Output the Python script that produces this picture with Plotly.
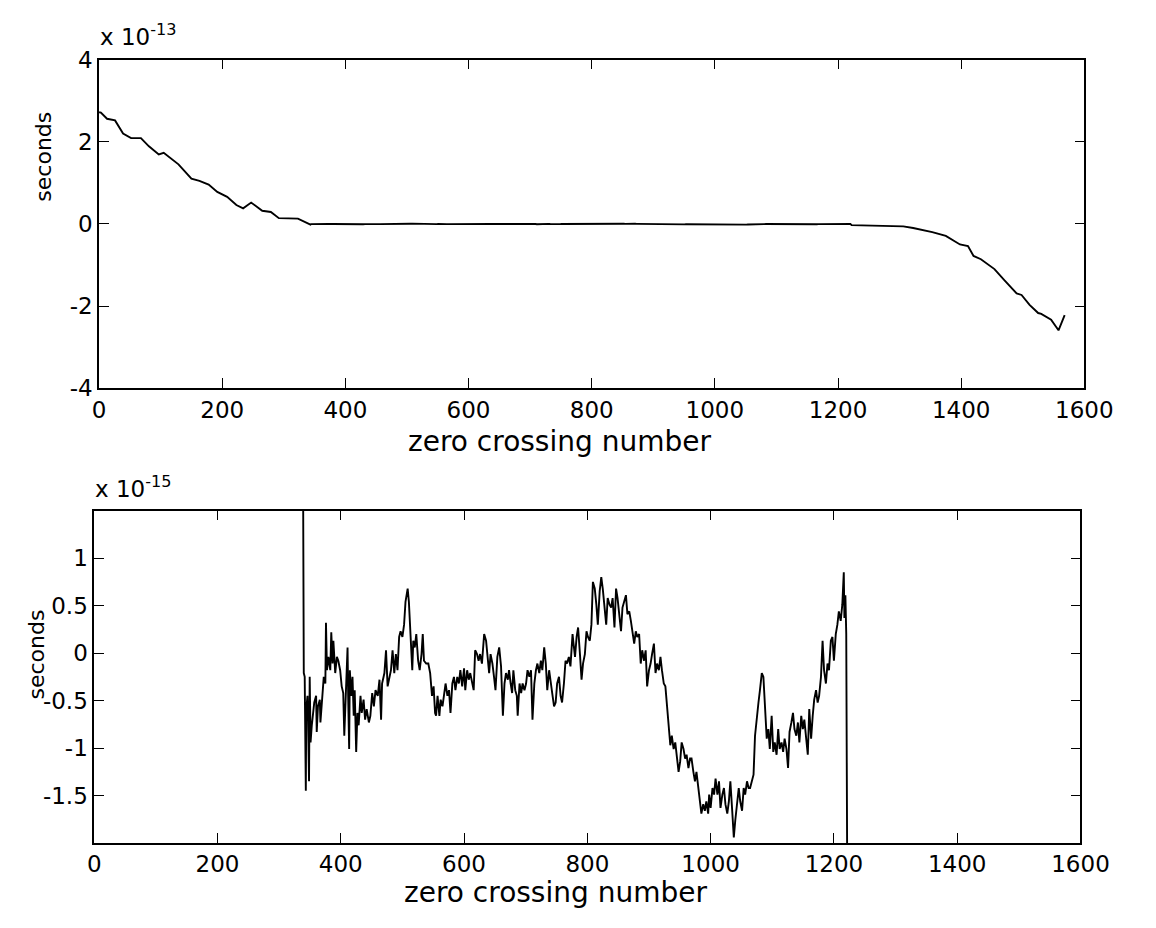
import numpy as np
import plotly.graph_objects as go

W, H = 1156, 928

# Timing error vs zero crossing number.
# Outer portions (scale 1e-13 s)
head_x = [0, 3, 13, 26, 39, 52, 68, 81, 97, 105, 129, 150, 163, 178, 192, 208, 223,
          234, 247, 265, 279, 292, 323, 338.5]
head_y = [2.72, 2.71, 2.56, 2.52, 2.20, 2.09, 2.09, 1.89, 1.69, 1.73, 1.45, 1.10, 1.05,
          0.96, 0.78, 0.66, 0.46, 0.38, 0.52, 0.32, 0.29, 0.14, 0.13, 0.025]

tail_x = [1222, 1275, 1306, 1322, 1353, 1375, 1385, 1398, 1411, 1420, 1432, 1454, 1470,
          1490, 1498, 1511, 1525, 1530, 1546, 1558, 1568]
tail_y = [-0.03, -0.04, -0.06, -0.10, -0.20, -0.29, -0.38, -0.50, -0.54, -0.78, -0.86,
          -1.10, -1.37, -1.69, -1.73, -1.97, -2.17, -2.19, -2.33, -2.59, -2.22]

# Central portion (scale 1e-15 s)
mid_x = [339.3, 340.0, 341.5, 343.3, 344.0, 346.0, 347.0, 348.5, 349.6, 351.0, 353.0, 354.7,
         357.0, 360.0, 361.0, 363.0, 366.0, 367.0, 370.0, 372.4, 375.0, 376.0, 377.6, 380.0,
         383.0, 384.6, 386.7, 388.0, 391.0, 393.7, 396.0, 399.0, 401.5, 404.0, 405.7, 408.0,
         411.0, 412.0, 413.6, 414.7, 417.0, 419.0, 421.0, 422.6, 425.0, 427.0, 429.0, 432.0,
         434.0, 437.0, 439.5, 442.0, 445.6, 448.0, 451.0, 453.7, 456.4, 460.0, 462.8, 465.4,
         467.0, 470.8, 473.4, 476.0, 478.7, 481.4, 484.0, 486.8, 489.4, 492.0, 494.7, 497.0,
         500.0, 502.7, 505.0, 508.5, 510.5, 513.0, 516.0, 517.6, 520.0, 522.5, 525.5, 528.0,
         531.0, 533.0, 535.0, 538.6, 542.0, 545.0, 548.0, 550.6, 553.0,
         554.6, 557.0, 560.0, 562.0, 565.0, 567.7, 570.0, 573.0, 575.6, 578.0, 581.0, 583.6,
         586.0, 589.0, 591.6, 594.0, 597.0, 600.0, 602.0, 605.0, 607.6, 610.0, 613.0, 615.6,
         618.0, 621.0, 623.6, 626.0, 629.0, 632.6, 635.7, 638.0, 640.7, 643.0, 646.0, 648.6,
         651.0, 654.0, 657.0, 660.0, 663.0, 665.6, 668.0, 671.0, 673.0, 675.6, 678.0, 680.0,
         683.0, 685.6, 687.0, 690.0, 692.6, 695.0, 698.0, 700.6, 703.0, 706.0, 708.6, 711.0,
         714.0, 716.6, 719.0, 722.0, 724.6, 727.0, 730.0, 732.6, 735.0, 738.0, 740.6, 743.0,
         746.0, 748.6, 751.0, 754.0, 756.6, 759.0, 762.0, 764.6, 767.0, 770.0, 772.6, 776.0,
         777.6, 780.0, 782.6, 785.0, 788.0, 790.6, 793.0, 796.0, 798.6, 801.0, 804.0, 806.6,
         809.0, 812.0, 814.6, 817.0, 820.0, 822.6, 825.0, 828.0, 830.6, 833.0, 836.0, 838.6,
         841.0, 844.0, 846.6, 849.0, 852.0, 854.6, 857.0, 860.0, 862.6, 865.0, 868.0, 870.6,
         873.0, 876.0, 878.6, 881.0, 884.0, 886.6, 889.0, 892.0, 894.6, 897.0, 900.0, 902.6,
         905.0, 908.0, 910.6, 913.0, 916.0, 918.6, 921.0, 924.0, 926.6, 929.0, 932.0, 934.6,
         937.0, 940.0, 942.6, 945.0, 948.0, 950.6, 953.0, 956.0, 958.6, 961.0, 964.0, 966.6,
         969.0, 972.0, 974.6, 977.0, 980.0, 982.6, 985.0, 988.0, 990.6, 993.0, 996.0,
         997.6, 1000.0, 1003.0, 1005.6, 1008.0, 1011.0, 1013.6, 1016.0, 1019.0, 1021.6,
         1024.0, 1027.0, 1029.6, 1032.0, 1035.0, 1037.6, 1040.0, 1043.0, 1045.6, 1048.0,
         1051.0, 1053.6, 1056.0, 1059.0, 1061.6, 1064.0, 1067.0, 1069.6, 1072.0, 1075.0,
         1077.6, 1080.0, 1083.0, 1085.6, 1088.0, 1091.0, 1093.6, 1096.0, 1099.0, 1101.6,
         1104.0, 1107.0, 1109.6, 1112.0, 1115.0, 1117.6, 1120.0, 1123.0, 1125.6, 1128.0,
         1131.0, 1133.6, 1136.0, 1139.0, 1141.6, 1144.0, 1147.0, 1149.6, 1152.0, 1155.0,
         1157.6, 1160.0, 1163.0, 1165.6, 1168.0, 1171.0, 1173.6, 1176.0, 1179.0, 1181.6,
         1184.0, 1187.0, 1189.6, 1192.0, 1195.0, 1197.6, 1200.0, 1203.0, 1205.6, 1208.0,
         1211.0, 1213.6, 1216.0, 1217.0, 1218.6, 1220.0]
mid_y = [0.54, -0.21, -0.25, -1.45, -0.59, -0.45, -0.70, -1.35, -0.25, -0.94, -0.76, -0.63,
         -0.52, -0.45, -0.83, -0.56, -0.49, -0.73, -0.45, -0.25, -0.32, 0.32, -0.18, -0.04,
         -0.18, 0.22, -0.11, 0.13, -0.21, -0.04, -0.08, -0.18, -0.35, -0.42, -0.87, -0.39,
         0.06, -0.45, -1.01, -0.18, -0.45, -0.25, -0.66, -0.39, -1.04, -0.63, -0.76, -0.45,
         -0.63, -0.49, -0.70, -0.59, -0.73, -0.66, -0.42, -0.56, -0.39, -0.45, -0.28, -0.70,
         -0.32, -0.21, 0.03, -0.35, -0.25, -0.18, 0.03, -0.21, -0.01, -0.18, 0.17, 0.23,
         0.17, 0.30, 0.54, 0.68, 0.54, 0.17, -0.18, 0.13, 0.06, 0.20, -0.08, -0.18,
         -0.01, 0.20, -0.08, -0.11, -0.11, -0.21, -0.45, -0.35, -0.63,
         -0.66, -0.45, -0.66, -0.49, -0.56, -0.39, -0.32, -0.45, -0.39, -0.63, -0.32, -0.25,
         -0.39, -0.25, -0.32, -0.18, -0.35, -0.16, -0.39, -0.18, -0.28, -0.21, -0.32, -0.39,
         0.03, -0.01, -0.08, -0.01, -0.11, 0.20, 0.13, -0.04, -0.21, -0.01, -0.11, -0.25,
         -0.39, -0.04, 0.06, -0.14, -0.66, -0.32, -0.21, -0.28, -0.18, -0.32, -0.42, -0.18,
         -0.39, -0.45, -0.66, -0.32, -0.42, -0.32, -0.39, -0.32, -0.18, -0.25, -0.18, -0.70,
         -0.32, -0.18, -0.11, -0.21, -0.08, -0.18, 0.06, -0.11, -0.39, -0.18, -0.28, -0.42,
         -0.56, -0.52, -0.32, -0.25, -0.45, -0.52, -0.32, -0.08, -0.11, -0.04, -0.14, 0.20,
         0.10, -0.04, 0.17, 0.27, -0.01, -0.28, -0.11, -0.01, 0.23, 0.17, 0.13, 0.30,
         0.75, 0.68, 0.51, 0.30, 0.65, 0.80, 0.68, 0.51, 0.30, 0.58, 0.51, 0.48,
         0.58, 0.27, 0.68, 0.58, 0.41, 0.23, 0.48, 0.54, 0.61, 0.41, 0.44, 0.34,
         0.23, 0.10, 0.23, 0.17, 0.20, -0.11, 0.03, -0.08, 0.03, -0.35, -0.18, -0.11,
         -0.01, 0.10, -0.21, -0.11, -0.18, -0.04, -0.18, -0.32, -0.35, -0.52, -0.73, -0.97,
         -0.87, -1.01, -0.94, -1.07, -1.25, -1.14, -0.94, -1.01, -1.11, -1.07, -1.21, -1.11,
         -1.11, -1.25, -1.35, -1.25, -1.42, -1.56, -1.69, -1.59, -1.66, -1.56, -1.69,
         -1.49, -1.63, -1.42, -1.49, -1.32, -1.49, -1.35, -1.63, -1.49, -1.42,
         -1.59, -1.69, -1.56, -1.35, -1.66, -1.94, -1.76, -1.59, -1.42, -1.56,
         -1.66, -1.42, -1.49, -1.35, -1.42, -1.42, -1.35, -1.28, -0.87, -0.63,
         -0.52, -0.39, -0.21, -0.25, -0.52, -0.90, -0.80, -1.01, -0.66, -1.04,
         -0.94, -1.07, -0.80, -1.01, -0.94, -1.04, -0.90, -1.01, -1.21, -0.83,
         -0.73, -0.63, -0.80, -0.87, -0.73, -0.94, -0.66, -0.80, -0.70, -0.87,
         -1.07, -0.59, -0.90, -0.66, -0.49, -0.39, -0.52, -0.45, -0.25, 0.13,
         -0.18, -0.32, -0.11, -0.18, 0.13, 0.17, -0.08, 0.20, 0.30, 0.44,
         0.34, 0.51, 0.85, 0.37, 0.61, 0.20]

x_all = np.concatenate([head_x, mid_x, tail_x])
y_all = np.concatenate([np.array(head_y) * 1e-13, np.array(mid_y) * 1e-15,
                        np.array(tail_y) * 1e-13])


def px_x(p):
    return p / W


def px_y(p):
    return 1 - p / H


FONT = "DejaVu Sans, Liberation Sans, Arial, sans-serif"
TICK_FS = 23
XLAB_FS = 28
YLAB_FS = 22

fig = go.Figure()
fig.add_trace(go.Scatter(x=x_all, y=y_all, mode="lines", xaxis="x", yaxis="y",
                         line=dict(color="black", width=1.9), showlegend=False))
fig.add_trace(go.Scatter(x=x_all, y=y_all, mode="lines", xaxis="x2", yaxis="y2",
                         line=dict(color="black", width=1.9), showlegend=False))

x_ticks = [0, 200, 400, 600, 800, 1000, 1200, 1400, 1600]
top_ticks = [-4, -2, 0, 2, 4]
bot_ticks = [-1.5, -1, -0.5, 0, 0.5, 1]

axis_common = dict(showgrid=False, zeroline=False, showline=True, linecolor="black",
                   linewidth=1.6, mirror="ticks", ticks="inside", ticklen=10,
                   tickwidth=1.4, tickcolor="black",
                   tickfont=dict(family=FONT, size=TICK_FS, color="black"))

fig.update_layout(
    width=W, height=H,
    margin=dict(l=0, r=0, t=0, b=0),
    paper_bgcolor="white", plot_bgcolor="white",
    xaxis=dict(domain=[px_x(95), px_x(1112)], range=[0, 1600], anchor="y",
               tickvals=x_ticks, ticktext=[str(v) for v in x_ticks], **axis_common),
    yaxis=dict(domain=[px_y(386), px_y(48)], range=[-4e-13, 4e-13], anchor="x",
               tickvals=[v * 1e-13 for v in top_ticks],
               ticktext=[str(v) for v in top_ticks], **axis_common),
    xaxis2=dict(domain=[px_x(90), px_x(1108)], range=[0, 1600], anchor="y2",
                tickvals=x_ticks, ticktext=[str(v) for v in x_ticks], **axis_common),
    yaxis2=dict(domain=[px_y(854), px_y(512)], range=[-2e-15, 1.5e-15], anchor="x2",
                tickvals=[v * 1e-15 for v in bot_ticks],
                ticktext=[("%g" % v) for v in bot_ticks], **axis_common),
)

ann = dict(showarrow=False, xref="paper", yref="paper")
fig.add_annotation(x=px_x(94), y=px_y(40), xanchor="left", yanchor="bottom",
                   text="x 10<sup>-13</sup>",
                   font=dict(family=FONT, size=TICK_FS, color="black"), **ann)
fig.add_annotation(x=px_x(89), y=px_y(505), xanchor="left", yanchor="bottom",
                   text="x 10<sup>-15</sup>",
                   font=dict(family=FONT, size=TICK_FS, color="black"), **ann)
fig.add_annotation(x=px_x(570), y=px_y(441), xanchor="center", yanchor="middle",
                   text="zero crossing number",
                   font=dict(family=FONT, size=XLAB_FS, color="black"), **ann)
fig.add_annotation(x=px_x(566), y=px_y(905), xanchor="center", yanchor="middle",
                   text="zero crossing number",
                   font=dict(family=FONT, size=XLAB_FS, color="black"), **ann)
fig.add_annotation(x=px_x(38), y=px_y(148), xanchor="center", yanchor="middle",
                   textangle=-90, text="seconds",
                   font=dict(family=FONT, size=YLAB_FS, color="black"), **ann)
fig.add_annotation(x=px_x(30), y=px_y(660), xanchor="center", yanchor="middle",
                   textangle=-90, text="seconds",
                   font=dict(family=FONT, size=YLAB_FS, color="black"), **ann)

fig.write_html("out.html", post_script="document.body.style.margin='0';")
